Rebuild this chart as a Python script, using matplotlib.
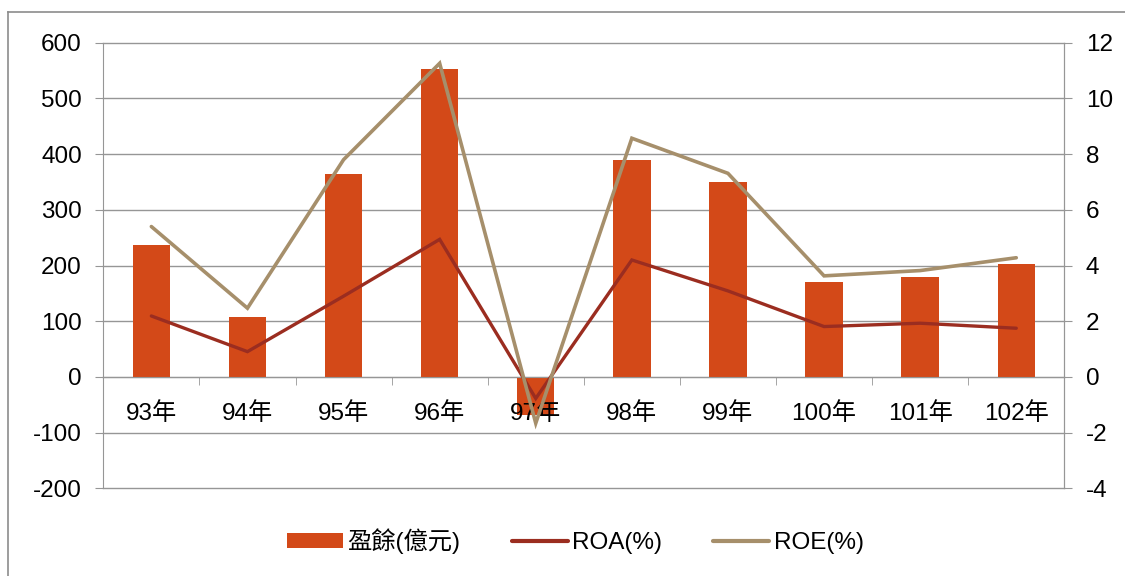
import matplotlib
matplotlib.use("Agg")
import matplotlib.pyplot as plt
from matplotlib.lines import Line2D
from matplotlib.patches import Patch
import numpy as np

plt.rcParams['font.family'] = ['Liberation Sans', 'Noto Sans CJK TC', 'DejaVu Sans']

years = ["93年", "94年", "95年", "96年", "97年", "98年", "99年", "100年", "101年", "102年"]
profit = [236, 108, 364, 553, -68, 390, 350, 171, 180, 203]          # 盈餘(億元)
roa = [2.19, 0.91, 2.9, 4.94, -0.77, 4.2, 3.09, 1.81, 1.93, 1.75]     # ROA(%)
roe = [5.4, 2.47, 7.8, 11.26, -1.66, 8.57, 7.31, 3.63, 3.82, 4.28]    # ROE(%)

left_ticks = [-200, -100, 0, 100, 200, 300, 400, 500, 600]
right_ticks = [-4, -2, 0, 2, 4, 6, 8, 10, 12]

BAR = "#D34918"
ROA_C = "#9B2D20"
ROE_C = "#A68F6B"
GRID = "#969696"
FS = 17.5

fig = plt.figure(figsize=(11.25, 5.76), dpi=100)
ax = fig.add_axes([103.3 / 1125, 1 - 488.4 / 576, (1064.3 - 103.3) / 1125, (488.4 - 42.7) / 576])
x = np.arange(len(years))

ax.set_ylim(-200, 600)
ax.set_xlim(-0.5, len(years) - 0.5)
ax.set_yticks(left_ticks)
ax.set_yticklabels([str(v) for v in left_ticks], fontsize=FS)
for v in left_ticks:
    ax.axhline(v, color=GRID, lw=1.0, zorder=0, clip_on=False)

ax.bar(x, profit, width=0.39, color=BAR, zorder=2)
ax.set_axisbelow(False)

# category axis sits on the zero line
ax.spines['top'].set_visible(False)
ax.spines['bottom'].set_position(('data', 0))
for s in ['bottom', 'left', 'right']:
    ax.spines[s].set_color(GRID)
ax.set_xticks(x)
ax.set_xticklabels(years, fontsize=FS)
ax.set_xticks(np.arange(len(years) + 1) - 0.5, minor=True)
ax.tick_params(axis='x', which='major', length=0, pad=18)
ax.tick_params(axis='x', which='minor', length=5.5, color=GRID, direction='out')
ax.tick_params(axis='y', length=5.5, color=GRID, pad=10, direction='out')

ax2 = ax.twinx()
ax2.set_ylim(-4, 12)
ax2.set_yticks(right_ticks)
ax2.set_yticklabels([str(v) for v in right_ticks], fontsize=FS)
ax2.tick_params(axis='y', length=5.5, color=GRID, pad=10, direction='out')
for s in ['top', 'bottom', 'left']:
    ax2.spines[s].set_visible(False)
ax2.spines['right'].set_color(GRID)

ax2.plot(x, roa, color=ROA_C, lw=2.4, solid_capstyle='round', solid_joinstyle='miter', zorder=3)
ax2.plot(x, roe, color=ROE_C, lw=2.6, solid_capstyle='round', solid_joinstyle='miter', zorder=4)

handles = [
    Patch(facecolor=BAR, edgecolor='none'),
    Line2D([], [], color=ROA_C, lw=3, solid_capstyle='round'),
    Line2D([], [], color=ROE_C, lw=3, solid_capstyle='round'),
]
labels = ["盈餘(億元)", "ROA(%)", "ROE(%)"]
fig.legend(handles, labels, loc='center', bbox_to_anchor=(0.5116, 1 - 541 / 576),
           ncol=3, frameon=False, fontsize=FS, handlelength=2.3, handleheight=0.55,
           handletextpad=0.2, columnspacing=2.1)

# outer frame edges
fig.add_artist(Line2D([8 / 1125, 8 / 1125], [0, 1 - 12 / 576], color="#8c8c8c", lw=1.2,
                      transform=fig.transFigure))
fig.add_artist(Line2D([8 / 1125, 1], [1 - 12 / 576, 1 - 12 / 576], color="#8c8c8c", lw=1.2,
                      transform=fig.transFigure))

fig.savefig("out.png", dpi=100)
